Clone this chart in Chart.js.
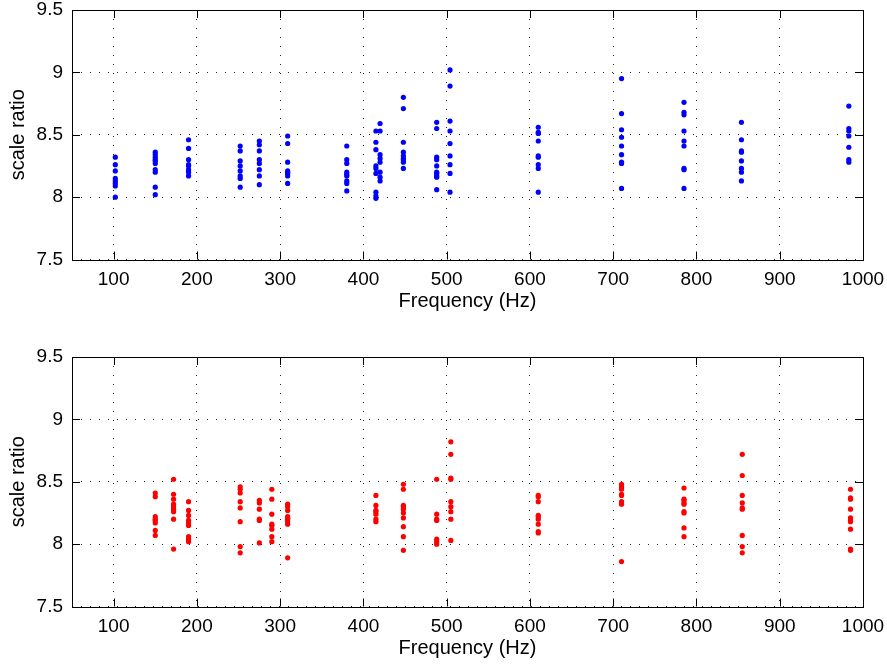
<!DOCTYPE html>
<html>
<head>
<meta charset="utf-8">
<script src="https://cdn.jsdelivr.net/npm/chart.js@4.4.1/dist/chart.umd.min.js"></script>
<style>
  html, body { margin: 0; padding: 0; background: #fff; }
  body { width: 887px; height: 664px; position: relative; overflow: hidden; }
  canvas { position: absolute; left: 0; }
  #top { top: 0; }
  #bottom { top: 347px; }
</style>
</head>
<body>
<canvas id="top" width="887" height="317"></canvas>
<canvas id="bottom" width="887" height="317"></canvas>
<script>
// tick values and labels
const xTicks = [100, 200, 300, 400, 500, 600, 700, 800, 900, 1000];
const yTicks = [7.5, 8, 8.5, 9, 9.5];
const yTickLabels = ['7.5', '8', '8.5', '9', '9.5'];

// upper panel: frequency of each column and the ratios measured there
const topFreqs = [102, 150, 190, 252, 275, 309, 380, 415, 420, 448, 488, 504, 610, 710, 785, 854, 983];
const topRatios = [
  [8.32, 8.26, 8.21, 8.15, 8.13, 8.11, 8.09, 8.00],
  [8.36, 8.34, 8.32, 8.30, 8.29, 8.27, 8.22, 8.20, 8.08, 8.02],
  [8.46, 8.39, 8.30, 8.26, 8.25, 8.22, 8.20, 8.17],
  [8.41, 8.37, 8.29, 8.25, 8.21, 8.17, 8.15, 8.08],
  [8.45, 8.42, 8.37, 8.30, 8.27, 8.22, 8.17, 8.10],
  [8.49, 8.43, 8.28, 8.21, 8.20, 8.19, 8.17, 8.11],
  [8.41, 8.30, 8.27, 8.20, 8.18, 8.17, 8.13, 8.11, 8.05],
  [8.53, 8.44, 8.38, 8.25, 8.23, 8.19, 8.04, 8.01, 7.99],
  [8.59, 8.53, 8.34, 8.31, 8.28, 8.20, 8.16, 8.13],
  [8.80, 8.71, 8.44, 8.36, 8.33, 8.31, 8.30, 8.28, 8.23],
  [8.60, 8.55, 8.32, 8.30, 8.25, 8.20, 8.19, 8.17, 8.16, 8.06],
  [9.02, 8.89, 8.61, 8.53, 8.43, 8.33, 8.26, 8.19, 8.04],
  [8.56, 8.52, 8.51, 8.45, 8.33, 8.32, 8.26, 8.23, 8.04],
  [8.95, 8.67, 8.54, 8.48, 8.41, 8.34, 8.28, 8.27, 8.07],
  [8.76, 8.68, 8.66, 8.53, 8.45, 8.41, 8.23, 8.22, 8.07],
  [8.60, 8.46, 8.37, 8.36, 8.29, 8.23, 8.20, 8.13],
  [8.73, 8.55, 8.53, 8.49, 8.40, 8.30, 8.28]
];

// lower panel
const bottomFreqs = [150, 172, 190, 252, 275, 290, 309, 415, 448, 488, 505, 610, 710, 785, 855, 985];
const bottomRatios = [
  [8.41, 8.38, 8.22, 8.20, 8.19, 8.17, 8.11, 8.07],
  [8.52, 8.40, 8.36, 8.32, 8.30, 8.28, 8.26, 8.20, 7.96],
  [8.34, 8.27, 8.23, 8.19, 8.17, 8.15, 8.06, 8.04, 8.02],
  [8.46, 8.44, 8.41, 8.34, 8.29, 8.18, 7.98, 7.93],
  [8.35, 8.33, 8.28, 8.20, 8.19, 8.01],
  [8.44, 8.36, 8.24, 8.16, 8.15, 8.12, 8.06, 8.02],
  [8.32, 8.30, 8.27, 8.22, 8.21, 8.20, 8.18, 8.16, 7.89],
  [8.39, 8.31, 8.27, 8.26, 8.24, 8.20, 8.18],
  [8.48, 8.44, 8.31, 8.30, 8.28, 8.25, 8.21, 8.14, 8.06, 7.95],
  [8.52, 8.24, 8.20, 8.19, 8.04, 8.02, 8.00],
  [8.82, 8.72, 8.53, 8.52, 8.34, 8.30, 8.26, 8.20, 8.03],
  [8.39, 8.38, 8.34, 8.23, 8.22, 8.20, 8.16, 8.10, 8.09],
  [8.48, 8.46, 8.44, 8.40, 8.39, 8.34, 8.32, 7.86],
  [8.45, 8.36, 8.35, 8.33, 8.32, 8.26, 8.25, 8.13, 8.06],
  [8.72, 8.55, 8.39, 8.33, 8.29, 8.28, 8.07, 7.98, 7.93],
  [8.44, 8.37, 8.36, 8.28, 8.21, 8.19, 8.18, 8.12, 7.96, 7.95]
];

const FONT = 'Liberation Sans, Arial, Helvetica, sans-serif';

function toPoints(freqs, ratios) {
  const pts = [];
  freqs.forEach((f, i) => ratios[i].forEach(r => pts.push({ x: f, y: r })));
  return pts;
}

// matlab style box with inward tick marks on all four sides
const boxPlugin = {
  id: 'box',
  afterDraw(chart) {
    const { ctx, chartArea: a, scales } = chart;
    const len = 8;
    ctx.save();
    ctx.strokeStyle = '#000';
    ctx.lineWidth = 1;
    ctx.beginPath();
    xTicks.forEach(v => {
      const px = Math.round(scales.x.getPixelForValue(v)) + 0.5;
      ctx.moveTo(px, a.bottom); ctx.lineTo(px, a.bottom - len);
      ctx.moveTo(px, a.top); ctx.lineTo(px, a.top + len);
    });
    yTicks.forEach(v => {
      const py = Math.round(scales.y.getPixelForValue(v)) + 0.5;
      ctx.moveTo(a.left, py); ctx.lineTo(a.left + len, py);
      ctx.moveTo(a.right, py); ctx.lineTo(a.right - len, py);
    });
    ctx.stroke();
    ctx.strokeRect(Math.round(a.left) + 0.5, Math.round(a.top) + 0.5,
      Math.round(a.right - a.left), Math.round(a.bottom - a.top));
    ctx.restore();
  }
};

function makeChart(id, freqs, ratios, color) {
  return new Chart(document.getElementById(id), {
    type: 'scatter',
    data: {
      datasets: [{
        data: toPoints(freqs, ratios),
        backgroundColor: color,
        borderWidth: 0,
        pointRadius: 2.6,
        pointHoverRadius: 2.6
      }]
    },
    options: {
      responsive: false,
      animation: false,
      devicePixelRatio: 1,
      layout: { padding: { top: 10, right: 24, bottom: 0, left: 0 }, autoPadding: false },
      plugins: { legend: { display: false }, tooltip: { enabled: false } },
      scales: {
        x: {
          type: 'linear',
          min: 50,
          max: 1000,
          afterBuildTicks: s => { s.ticks = xTicks.map(v => ({ value: v })); },
          afterFit: s => { s.height = 57.5; },
          // invisible tick length gives the label offset without extra chart padding
          grid: { color: '#222', lineWidth: 1, drawTicks: true, tickLength: 11, tickColor: 'rgba(0,0,0,0)' },
          border: { display: false, dash: [1, 8] },
          ticks: {
            padding: 0,
            maxRotation: 0,
            autoSkip: false,
            color: '#000',
            font: { family: FONT, size: 19, lineHeight: 1 },
            callback: v => String(v)
          },
          title: {
            display: true,
            text: 'Frequency (Hz)',
            color: '#000',
            padding: { top: 0, bottom: 3.3 },
            font: { family: FONT, size: 20 }
          }
        },
        y: {
          type: 'linear',
          min: 7.5,
          max: 9.5,
          afterBuildTicks: s => { s.ticks = yTicks.map(v => ({ value: v })); },
          afterFit: s => { s.width = 72; },
          grid: { color: '#222', lineWidth: 1, drawTicks: true, tickLength: 9, tickColor: 'rgba(0,0,0,0)' },
          border: { display: false, dash: [1, 8] },
          ticks: {
            padding: 0,
            color: '#000',
            font: { family: FONT, size: 19, lineHeight: 1 },
            callback: (v, i) => yTickLabels[i]
          },
          title: {
            display: true,
            text: 'scale ratio',
            color: '#000',
            padding: { top: 6, bottom: 0 },
            font: { family: FONT, size: 20 }
          }
        }
      }
    },
    plugins: [boxPlugin]
  });
}

makeChart('top', topFreqs, topRatios, '#0000ff');
makeChart('bottom', bottomFreqs, bottomRatios, '#ff0000');
</script>
</body>
</html>
